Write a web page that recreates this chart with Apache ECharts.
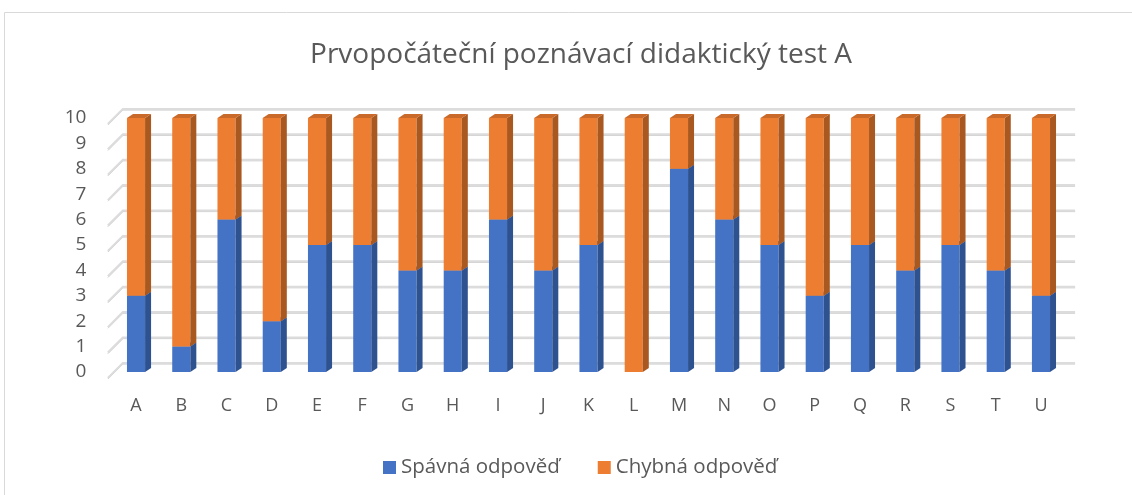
<!DOCTYPE html>
<html>
<head>
<meta charset="utf-8">
<script src="https://cdn.jsdelivr.net/npm/echarts@6/dist/echarts.min.js"></script>
<style>
html,body{margin:0;padding:0;background:#fff;}
#chart{width:1132px;height:495px;}
</style>
</head>
<body>
<div id="chart"></div>
<script>
const categories = ['A','B','C','D','E','F','G','H','I','J','K','L','M','N','O','P','Q','R','S','T','U'];
const correct = [3,1,6,2,5,5,4,4,6,4,5,0,8,6,5,3,5,4,5,4,3];
const wrong   = [7,9,4,8,5,5,6,6,4,6,5,10,2,4,5,7,5,6,5,6,7];
const yTicks  = [0,1,2,3,4,5,6,7,8,9,10];
const seriesNames = ['Spávná odpověď','Chybná odpověď'];

const FONT = '"Open Sans", "Noto Sans", sans-serif';
const TEXT = '#595959';

const blueData = categories.map((c,i)=>[i, 0, correct[i]]);
const orangeData = categories.map((c,i)=>[i, correct[i], correct[i]+wrong[i]]);

function barRenderer(front, side, top) {
  return function(params, api) {
    const i = api.value(0), b = api.value(1), t = api.value(2);
    if (t === b) return null;
    const p0 = api.coord([i, b]);
    const p1 = api.coord([i, t]);
    const w = api.size([1,0])[0] * 0.4;
    const dx = 6, dy = -4;
    const x0 = p0[0] - w/2;
    return {
      type: 'group',
      children: [
        {type:'rect', shape:{x:x0, y:p1[1], width:w, height:p0[1]-p1[1]}, style:{fill:front}},
        {type:'polygon', shape:{points:[[x0+w,p1[1]],[x0+w+dx,p1[1]+dy],[x0+w+dx,p0[1]+dy],[x0+w,p0[1]]]}, style:{fill:side}},
        {type:'polygon', shape:{points:[[x0,p1[1]],[x0+dx,p1[1]+dy],[x0+w+dx,p1[1]+dy],[x0+w,p1[1]]]}, style:{fill:top}}
      ]
    };
  };
}

function gridRenderer(params, api) {
  const v = api.value(1);
  const cs = params.coordSys;
  const fy = api.coord([0, v])[1];
  const by = fy - 9;
  const pts = [[cs.x - 5.5, fy + 6], [cs.x + 9.5, by], [cs.x + cs.width + 11.5, by]];
  return {
    type: 'group',
    children: [
      {type:'polyline', shape:{points:pts.map(p=>[p[0], p[1]+1])}, style:{stroke:'#c8c8c8', lineWidth:1, fill:null}},
      {type:'polyline', shape:{points:pts}, style:{stroke:'#dcdcdc', lineWidth:2.2, fill:null}}
    ]
  };
}

const chart = echarts.init(document.getElementById('chart'), null, {renderer:'canvas'});
chart.setOption({
  animation: false,
  backgroundColor: '#fff',
  graphic: [{
    type:'rect', shape:{x:4.5, y:12.5, width:1300, height:700},
    style:{fill:null, stroke:'#d9d9d9', lineWidth:1}, z:-10, silent:true
  }],
  title: {
    text: 'Prvopočáteční poznávací didaktický test A',
    left: 576, top: 36, textAlign: 'center',
    textStyle: {fontFamily: FONT, fontWeight: 'normal', fontSize: 28, color: TEXT}
  },
  legend: {
    data: seriesNames,
    top: 452, left: 378,
    icon: 'rect', itemWidth: 13, itemHeight: 13, itemGap: 38,
    textStyle: {fontFamily: FONT, fontSize: 20.5, color: TEXT},
    selectedMode: false
  },
  grid: {left: 113.4, right: 68.4, top: 118, bottom: 123, containLabel: false},
  xAxis: {
    type: 'category', data: categories,
    axisLine: {show:false}, axisTick: {show:false},
    axisLabel: {margin: 25, fontFamily: FONT, fontSize: 18, color: TEXT},
    splitLine: {show:false}
  },
  yAxis: {
    type: 'value', min: 0, max: 10, interval: 1,
    axisLine: {show:false}, axisTick: {show:false},
    splitLine: {show:false},
    axisLabel: {margin: 27, fontFamily: FONT, fontSize: 19, color: TEXT, padding:[6,0,0,0]}
  },
  series: [
    {
      type: 'custom', name: 'grid', silent: true, z: 1,
      renderItem: gridRenderer,
      data: yTicks.map(v=>[0, v]),
      encode: {x:0, y:1}
    },
    {
      type: 'custom', name: seriesNames[0], z: 2,
      itemStyle: {color: '#4472C4'},
      renderItem: barRenderer('#4472C4', '#2E5290', '#3A62A8'),
      data: blueData, encode: {x:0, y:[1,2]}
    },
    {
      type: 'custom', name: seriesNames[1], z: 3,
      itemStyle: {color: '#ED7D31'},
      renderItem: barRenderer('#ED7D31', '#A9581F', '#C9692A'),
      data: orangeData, encode: {x:0, y:[1,2]}
    }
  ]
});
</script>
</body>
</html>
